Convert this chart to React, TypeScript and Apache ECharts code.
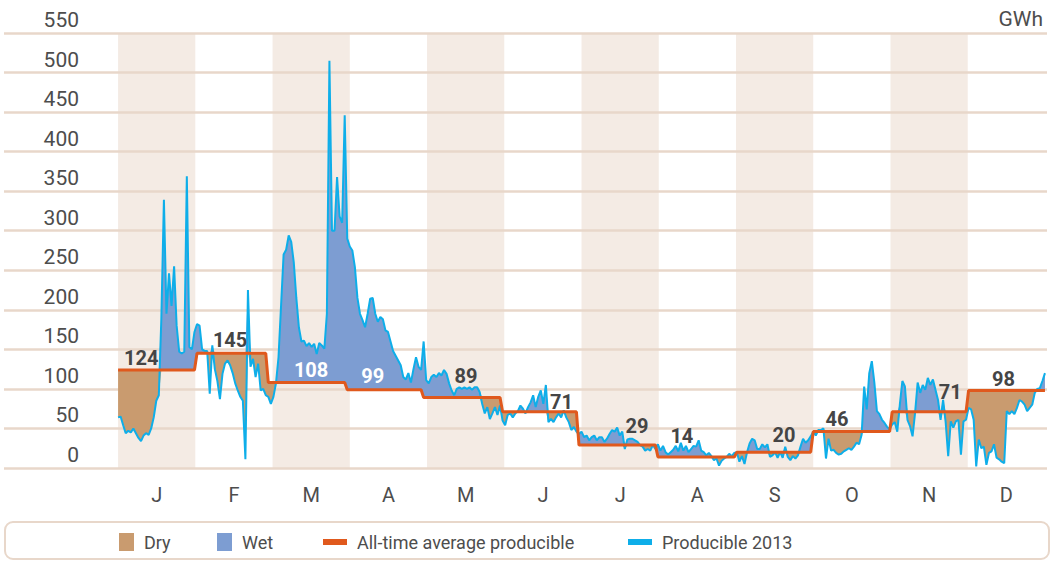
import React, { useEffect, useRef } from 'react';
import * as echarts from 'echarts';

// ---------- data ----------
const monthLetters = ['J', 'F', 'M', 'A', 'M', 'J', 'J', 'A', 'S', 'O', 'N', 'D'];
const monthDays = [31, 28, 31, 30, 31, 30, 31, 31, 30, 31, 30, 31];
const averageProducible = [124, 145, 108, 99, 89, 71, 29, 14, 20, 46, 71, 98];

const prodJan = [64, 65, 54, 44, 47, 45, 50, 44, 38, 34, 41, 44, 42, 50, 64, 85, 92, 190, 339, 195, 246, 205, 255, 180, 147, 145, 147, 369, 153, 150, 172];
const prodFeb = [182, 180, 150, 148, 148, 94, 155, 125, 110, 87, 119, 132, 136, 130, 120, 107, 98, 90, 85, 11, 225, 128, 138, 115, 132, 98, 100, 92];
const prodMar = [90, 81, 90, 107, 140, 205, 270, 276, 294, 286, 260, 215, 178, 160, 161, 154, 158, 153, 157, 144, 158, 155, 151, 195, 515, 300, 300, 368, 318, 310, 446];
const prodApr = [290, 280, 275, 254, 215, 195, 187, 178, 195, 214, 215, 195, 185, 191, 188, 174, 172, 160, 148, 142, 136, 130, 115, 112, 120, 108, 125, 140, 128, 124];
const prodMay = [160, 111, 107, 115, 118, 115, 120, 117, 124, 119, 107, 98, 92, 100, 102, 100, 102, 100, 102, 99, 102, 102, 96, 81, 69, 77, 62, 69, 77, 67, 79];
const prodJun = [60, 54, 67, 69, 64, 69, 72, 79, 75, 69, 77, 83, 92, 77, 90, 98, 81, 105, 58, 62, 58, 64, 69, 64, 73, 64, 58, 48, 52, 46];
const prodJul = [43, 46, 39, 41, 35, 39, 41, 35, 39, 39, 33, 37, 43, 48, 46, 51, 41, 46, 24, 36, 37, 37, 35, 33, 29, 27, 22, 24, 22, 29, 24];
const prodAug = [30, 22, 28, 20, 17, 20, 23, 28, 21, 32, 22, 28, 20, 24, 28, 27, 35, 22, 20, 16, 19, 15, 10, 12, 3, 9, 12, 14, 18, 15, 19];
const prodSep = [20, 8, 15, 5, 20, 31, 37, 35, 24, 24, 30, 26, 30, 14, 16, 20, 13, 20, 13, 27, 14, 10, 15, 12, 16, 27, 37, 32, 35, 40];
const prodOct = [46, 41, 48, 48, 50, 12, 37, 22, 23, 19, 17, 18, 21, 23, 25, 23, 27, 32, 30, 42, 103, 74, 120, 135, 108, 72, 68, 61, 57, 52, 49];
const prodNov = [55, 58, 46, 80, 110, 103, 61, 53, 40, 70, 108, 95, 105, 99, 114, 105, 112, 99, 86, 61, 86, 58, 15, 59, 51, 59, 61, 17, 59, 61];
const prodDec = [76, 74, 61, 2, 36, 25, 27, 4, 19, 21, 30, 13, 11, 8, 6, 72, 68, 72, 68, 76, 86, 84, 80, 72, 76, 80, 95, 100, 101, 110, 120];

const legendNames = ['Dry', 'Wet', 'All-time average producible', 'Producible 2013'];
const unitLabel = 'GWh';

// ---------- layout (not data) ----------
const avgLabelDays = [9.1, 44, 75.8, 100, 136.6, 174.1, 203.8, 221.4, 261.5, 282.3, 326.8, 347.7];
const avgLabelLift = [12, 13, 13, 14, 22, 10, 19, 21, 17, 13, 20, 11];
const whiteLabelMonths = [2, 3];

const FONT = 'Roboto, "Noto Sans", sans-serif';
const TEXT = '#4d4d4d';
const LABEL = '#454545';
const BAND = '#f4ebe4';
const GRID = '#e8d7ca';
const DRY = '#c99b6f';
const WET = '#7d9dd2';
const ORANGE = '#e0591d';
const CYAN = '#0eaee9';

const producible2013 = [
  ...prodJan, ...prodFeb, ...prodMar, ...prodApr, ...prodMay, ...prodJun,
  ...prodJul, ...prodAug, ...prodSep, ...prodOct, ...prodNov, ...prodDec,
];
const averageDaily: number[] = monthDays.flatMap((n, m) => Array(n).fill(averageProducible[m]));
const lastDay = producible2013.length - 1; // 364
const monthWidth = lastDay / 12;

export default function App() {
  const ref = useRef<HTMLDivElement>(null);
  useEffect(() => {
    if (!ref.current) return;
    const chart = echarts.init(ref.current, undefined, { renderer: 'svg' });

    // stacked series: value first, day second (so the stack runs on the value dimension)
    const baseData = producible2013.map((v, i) => [Math.min(v, averageDaily[i]), i]);
    const dryData = producible2013.map((v, i) => [Math.max(averageDaily[i] - v, 0), i]);
    const wetData = producible2013.map((v, i) => [Math.max(v - averageDaily[i], 0), i]);
    const avgData = averageDaily.map((v, i) => [i, v]);
    const prodData = producible2013.map((v, i) => [i, v]);

    const bands: any[] = [];
    for (let k = 0; k < 12; k += 2) {
      bands.push([{ xAxis: k * monthWidth }, { xAxis: (k + 1) * monthWidth }]);
    }
    const monthCenters = monthLetters.map((_, k) => (k + 0.5) * monthWidth);

    const legendBase = {
      top: 532,
      padding: 0,
      selectedMode: false,
      icon: 'rect',
      textStyle: { fontFamily: FONT, fontSize: 18, color: TEXT, lineHeight: 20, padding: [0, 0, 0, 5] },
    };

    const stackCommon = {
      type: 'line',
      stack: 'fill',
      encode: { x: 1, y: 0 },
      showSymbol: false,
      symbol: 'none',
      silent: true,
      lineStyle: { width: 0, opacity: 0 },
      z: 2,
    };

    const option: any = {
      animation: false,
      grid: { left: 4, right: 7, top: 33, bottom: 93, outerBoundsMode: 'none' },
      xAxis: {
        type: 'value',
        min: -44.8,
        max: lastDay + 0.8,
        axisLine: { show: false },
        axisTick: { show: false },
        splitLine: { show: false },
        axisLabel: {
          customValues: monthCenters,
          formatter: (v: number) => monthLetters[Math.round(v / monthWidth - 0.5)] ?? '',
          fontFamily: FONT,
          fontSize: 20,
          color: TEXT,
          margin: 17,
        },
      },
      yAxis: {
        type: 'value',
        min: 0,
        max: 550,
        interval: 50,
        axisLine: { show: false },
        axisTick: { show: false },
        splitLine: { show: true, lineStyle: { color: GRID, width: 2.5 } },
        axisLabel: {
          inside: true,
          align: 'right',
          verticalAlign: 'bottom',
          margin: 75,
          fontFamily: FONT,
          fontSize: 21,
          color: TEXT,
          lineHeight: 26,
        },
      },
      legend: [
        { ...legendBase, data: [legendNames[0]], left: 119, itemWidth: 15, itemHeight: 18 },
        { ...legendBase, data: [legendNames[1]], left: 217, itemWidth: 15, itemHeight: 18 },
        { ...legendBase, data: [legendNames[2]], left: 323, itemWidth: 24, itemHeight: 6 },
        { ...legendBase, data: [legendNames[3]], left: 628, itemWidth: 24, itemHeight: 6 },
      ],
      graphic: [
        {
          type: 'rect',
          z: 0,
          shape: { x: 5, y: 522, width: 1044, height: 37, r: 8 },
          style: { fill: '#fff', stroke: GRID, lineWidth: 2 },
          silent: true,
        },
        {
          type: 'text',
          z: 5,
          style: {
            text: unitLabel,
            x: 1043,
            y: 8,
            align: 'right',
            verticalAlign: 'top',
            fontFamily: FONT,
            fontSize: 21,
            fill: TEXT,
          },
          silent: true,
        },
      ],
      series: [
        {
          name: 'bands',
          type: 'line',
          data: [],
          silent: true,
          z: -2,
          markArea: {
            silent: true,
            z: -2,
            itemStyle: { color: BAND },
            label: { show: false },
            data: bands,
          },
        },
        { ...stackCommon, name: 'base', data: baseData },
        {
          ...stackCommon,
          name: legendNames[0],
          data: dryData,
          color: DRY,
          areaStyle: { color: DRY, opacity: 1 },
        },
        {
          ...stackCommon,
          name: legendNames[1],
          data: wetData,
          color: WET,
          areaStyle: { color: WET, opacity: 1 },
        },
        {
          name: legendNames[3],
          type: 'line',
          data: prodData,
          color: CYAN,
          showSymbol: false,
          symbol: 'none',
          silent: true,
          lineStyle: { color: CYAN, width: 2 },
          z: 3,
        },
        {
          name: legendNames[2],
          type: 'line',
          data: avgData,
          color: ORANGE,
          showSymbol: false,
          symbol: 'none',
          silent: true,
          lineStyle: { color: ORANGE, width: 3 },
          z: 4,
        },
        {
          name: 'avgLabels',
          type: 'scatter',
          silent: true,
          symbolSize: 0,
          itemStyle: { color: 'rgba(0,0,0,0)', opacity: 1 },
          z: 6,
          label: {
            show: true,
            position: 'inside',
            fontFamily: FONT,
            fontSize: 20,
            fontWeight: 'bold',
            textBorderWidth: 0,
            formatter: (p: any) => String(p.value[1]),
          },
          data: averageProducible.map((v, m) => ({
            value: [avgLabelDays[m], v],
            label: {
              offset: [0, -avgLabelLift[m]],
              color: whiteLabelMonths.includes(m) ? '#ffffff' : LABEL,
            },
          })),
        },
      ],
    };

    chart.setOption(option);
    return () => chart.dispose();
  }, []);

  return (
    <div
      ref={ref}
      style={{ position: 'absolute', left: 0, top: 0, width: 1054, height: 561, background: '#fff' }}
    />
  );
}
